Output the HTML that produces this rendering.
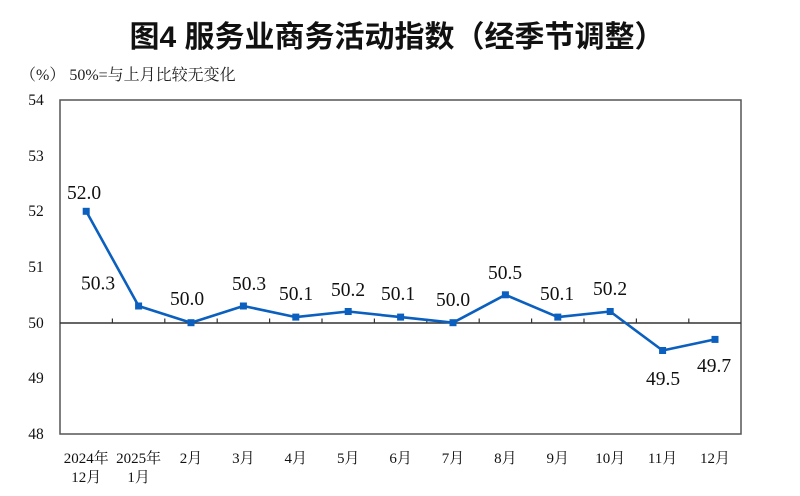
<!DOCTYPE html>
<html><head><meta charset="utf-8">
<style>
html,body{margin:0;padding:0;background:#fff;}
svg{display:block;}
.t{font-family:"Liberation Sans","Noto Sans CJK SC",sans-serif;}
.s{font-family:"Liberation Serif","Noto Serif CJK SC","Noto Sans CJK SC",serif;}
</style></head>
<body>
<svg width="800" height="496" viewBox="0 0 800 496" xmlns="http://www.w3.org/2000/svg">
<rect width="800" height="496" fill="#fff"/>
<text x="397" y="47" text-anchor="middle" class="t" font-size="30" font-weight="bold" fill="#111">图4 服务业商务活动指数（经季节调整）</text>
<text x="20" y="80" class="s" font-size="16" fill="#222">（%） 50%=与上月比较无变化</text>

<!-- plot frame -->
<rect x="60" y="100" width="681" height="334" fill="none" stroke="#555" stroke-width="1.5"/>
<!-- 50 line -->
<line x1="60" y1="323" x2="741" y2="323" stroke="#333" stroke-width="1.5"/>
<g stroke="#333" stroke-width="1.2">
<line x1="112.4" y1="323" x2="112.4" y2="318.5"/>
<line x1="164.8" y1="323" x2="164.8" y2="318.5"/>
<line x1="217.2" y1="323" x2="217.2" y2="318.5"/>
<line x1="269.6" y1="323" x2="269.6" y2="318.5"/>
<line x1="322" y1="323" x2="322" y2="318.5"/>
<line x1="374.4" y1="323" x2="374.4" y2="318.5"/>
<line x1="426.8" y1="323" x2="426.8" y2="318.5"/>
<line x1="479.2" y1="323" x2="479.2" y2="318.5"/>
<line x1="531.6" y1="323" x2="531.6" y2="318.5"/>
<line x1="584" y1="323" x2="584" y2="318.5"/>
<line x1="636.4" y1="323" x2="636.4" y2="318.5"/>
<line x1="688.8" y1="323" x2="688.8" y2="318.5"/>
</g>

<!-- y labels -->
<g class="s" font-size="15.5" fill="#111" text-anchor="middle">
<text x="36" y="105">54</text>
<text x="36" y="161">53</text>
<text x="36" y="216">52</text>
<text x="36" y="272">51</text>
<text x="36" y="328">50</text>
<text x="36" y="383">49</text>
<text x="36" y="439">48</text>
</g>

<!-- x labels -->
<g class="s" font-size="15" fill="#111" text-anchor="middle">
<text x="86.2" y="463">2024年</text>
<text x="86.2" y="482">12月</text>
<text x="138.6" y="463">2025年</text>
<text x="138.6" y="482">1月</text>
<text x="191" y="463">2月</text>
<text x="243.4" y="463">3月</text>
<text x="295.8" y="463">4月</text>
<text x="348.2" y="463">5月</text>
<text x="400.6" y="463">6月</text>
<text x="453" y="463">7月</text>
<text x="505.4" y="463">8月</text>
<text x="557.8" y="463">9月</text>
<text x="610.2" y="463">10月</text>
<text x="662.6" y="463">11月</text>
<text x="715" y="463">12月</text>
</g>

<!-- series -->
<polyline fill="none" stroke="#0a5fbf" stroke-width="2.6" stroke-linejoin="round"
points="86.2,211.3 138.6,306 191,322.7 243.4,306 295.8,317.1 348.2,311.5 400.6,317.1 453,322.7 505.4,294.8 557.8,317.1 610.2,311.5 662.6,350.5 715,339.4"/>
<g fill="#0a5fbf">
<rect x="82.7" y="207.8" width="7" height="7"/>
<rect x="135.1" y="302.5" width="7" height="7"/>
<rect x="187.5" y="319.2" width="7" height="7"/>
<rect x="239.9" y="302.5" width="7" height="7"/>
<rect x="292.3" y="313.6" width="7" height="7"/>
<rect x="344.7" y="308" width="7" height="7"/>
<rect x="397.1" y="313.6" width="7" height="7"/>
<rect x="449.5" y="319.2" width="7" height="7"/>
<rect x="501.9" y="291.3" width="7" height="7"/>
<rect x="554.3" y="313.6" width="7" height="7"/>
<rect x="606.7" y="308" width="7" height="7"/>
<rect x="659.1" y="347" width="7" height="7"/>
<rect x="711.5" y="335.9" width="7" height="7"/>
</g>

<!-- data labels -->
<g class="s" font-size="19.5" fill="#111" text-anchor="middle">
<text x="84" y="199">52.0</text>
<text x="98" y="289.5">50.3</text>
<text x="187" y="305">50.0</text>
<text x="249" y="290">50.3</text>
<text x="296" y="300">50.1</text>
<text x="348" y="296">50.2</text>
<text x="398" y="300">50.1</text>
<text x="453" y="306">50.0</text>
<text x="505" y="279">50.5</text>
<text x="557" y="300">50.1</text>
<text x="610" y="295">50.2</text>
<text x="663" y="385">49.5</text>
<text x="714" y="372">49.7</text>
</g>
</svg>
</body></html>
